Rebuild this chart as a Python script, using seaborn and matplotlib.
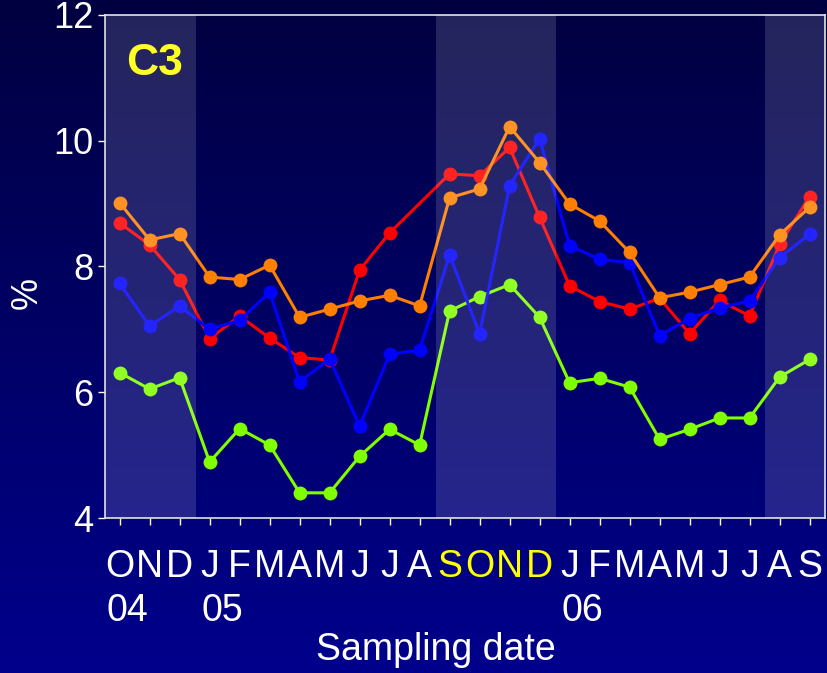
import numpy as np
import pandas as pd
import matplotlib
matplotlib.use('Agg')
import matplotlib.pyplot as plt
from matplotlib.colors import LinearSegmentedColormap
import seaborn as sns

# sampling months, Oct 2004 - Sep 2006
months = ['O', 'N', 'D', 'J', 'F', 'M', 'A', 'M', 'J', 'J', 'A', 'S',
          'O', 'N', 'D', 'J', 'F', 'M', 'A', 'M', 'J', 'J', 'A', 'S']
years = {0: '04', 3: '05', 15: '06'}
highlight = [11, 12, 13, 14]   # S O N D written in yellow
shaded = [(-0.5, 2.55), (10.55, 14.55), (21.5, 23.5)]

red = [8.69, 8.34, 7.79, 6.85, 7.21, 6.86, 6.55, 6.51, 7.94, 8.53, np.nan, 9.47,
       9.44, 9.89, 8.78, 7.69, 7.44, 7.32, 7.49, 6.93, 7.46, 7.21, 8.35, 9.11]
orange = [9.01, 8.42, 8.52, 7.83, 7.79, 8.02, 7.19, 7.32, 7.45, 7.54, 7.37, 9.09,
          9.23, 10.22, 9.65, 8.99, 8.72, 8.22, 7.50, 7.59, 7.71, 7.83, 8.50, 8.94]
blue = [7.73, 7.05, 7.37, 7.00, 7.14, 7.59, 6.16, 6.53, 5.46, 6.60, 6.67, 8.18,
        6.93, 9.28, 10.03, 8.33, 8.11, 8.06, 6.90, 7.17, 7.34, 7.45, 8.14, 8.51]
green = [6.31, 6.05, 6.23, 4.89, 5.42, 5.16, 4.40, 4.40, 4.98, 5.41, 5.16, 7.29,
         7.52, 7.71, 7.19, 6.15, 6.22, 6.08, 5.25, 5.41, 5.59, 5.59, 6.24, 6.52]

colors = {'red': '#ff0000', 'green': '#80ff00', 'blue': '#0000ff', 'orange': '#ff8000'}
order = ['red', 'green', 'blue', 'orange']

rows = []
for name, vals in zip(['red', 'orange', 'blue', 'green'], [red, orange, blue, green]):
    for i, v in enumerate(vals):
        rows.append({'month': i, 'value': v, 'series': name})
df = pd.DataFrame(rows)

sns.set_theme(style='white')
plt.rcParams['font.family'] = ['Liberation Sans', 'DejaVu Sans']

fig = plt.figure(figsize=(8.27, 6.73), dpi=100)

# navy gradient background
bg = fig.add_axes([0, 0, 1, 1], zorder=-1)
grad = np.linspace(0, 1, 256).reshape(-1, 1)
cmap = LinearSegmentedColormap.from_list('navy', ['#000040', '#00008c'])
bg.imshow(grad, aspect='auto', cmap=cmap, extent=[0, 1, 0, 1], origin='upper')
bg.axis('off')

ax = fig.add_axes([0.1265, 0.2303, 0.8706, 0.7479])
ax.patch.set_alpha(0)

sns.lineplot(data=df, x='month', y='value', hue='series', hue_order=order,
             palette=colors, marker='o', markersize=10, markeredgewidth=0,
             linewidth=2.2, legend=False, ax=ax)

for a, b in shaded:
    ax.axvspan(a, b, color='white', alpha=0.145, lw=0, zorder=5)

ax.text(1.18, 11.23, 'C3', color='#ffff00', fontsize=32, fontweight='bold',
        ha='center', va='center', zorder=3)

ax.set_xlim(-0.5, 23.5)
ax.set_ylim(4, 12)
ax.set_yticks([4, 6, 8, 10, 12])
ax.set_xticks(range(len(months)))
ax.set_xticklabels(months)

ax.tick_params(axis='x', colors='white', labelsize=27, length=5, width=1,
               direction='out', pad=17, bottom=True)
ax.tick_params(axis='y', colors='white', labelsize=26, length=5, width=1,
               direction='out', pad=3, left=True)
for i, lab in enumerate(ax.get_xticklabels()):
    lab.set_color('#ffff00' if i in highlight else 'white')

for sp in ax.spines.values():
    sp.set_color('#e0e0e0')
    sp.set_linewidth(1.2)

ax.set_xlabel('')
ax.set_ylabel('')

# year below the month letter, left aligned with it
ticklabels = ax.get_xticklabels()
for i, yr in years.items():
    ax.annotate(yr, xy=(0, 0), xycoords=ticklabels[i], xytext=(1, -6),
                textcoords='offset points', ha='left', va='top',
                color='white', fontsize=27)

fig.text(435.5 / 827, 1 - 660 / 673, 'Sampling date', color='white',
         fontsize=27, ha='center', va='baseline')
fig.text(27 / 827, 1 - 293 / 673, '%', color='white', fontsize=26,
         rotation=90, ha='center', va='center')

fig.savefig('out.png', dpi=100, facecolor=fig.get_facecolor())
